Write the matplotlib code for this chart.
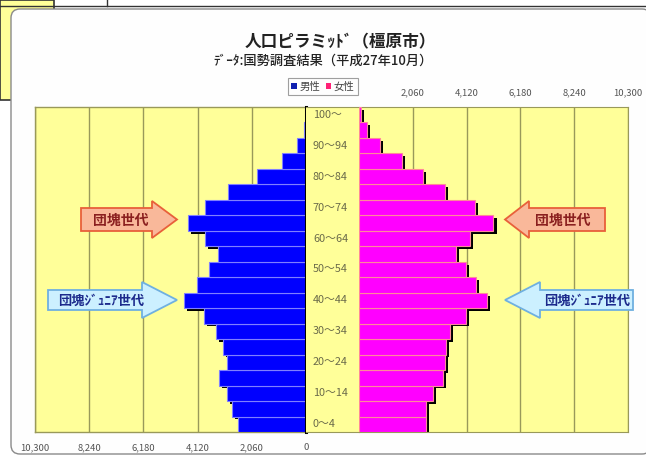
import matplotlib
matplotlib.use("Agg")

import matplotlib.pyplot as plt
import matplotlib.patches as mpatches
import numpy as np

plt.rcParams["font.family"] = ["Noto Sans CJK JP", "DejaVu Sans"]
plt.rcParams["axes.unicode_minus"] = False

# ── data (people, 2015 census, Kashihara city) ──────────────────────
age_groups = ["0～4", "5～9", "10～14", "15～19", "20～24", "25～29", "30～34",
              "35～39", "40～44", "45～49", "50～54", "55～59", "60～64",
              "65～69", "70～74", "75～79", "80～84", "85～89", "90～94",
              "95～99", "100～"]
male = [2580, 2810, 3000, 3320, 3000, 3150, 3420, 3890, 4650, 4150, 3700,
        3340, 3850, 4490, 3850, 2960, 1880, 900, 330, 80, 15]
female = [2560, 2580, 2840, 3220, 3280, 3340, 3470, 4110, 4900, 4490, 4110,
          3700, 4240, 5150, 4430, 3300, 2450, 1630, 800, 290, 60]
axis_max = 10300
tick_values = [0, 2060, 4120, 6180, 8240, 10300]

# ── colours ──────────────────────────────────────────────────────────
YELLOW = "#ffff99"
GRID = "#99995a"
BLUE = "#0000ff"
MAGENTA = "#ff00ff"

W, H = 646, 455
fig = plt.figure(figsize=(W / 100, H / 100), dpi=100)
fig.patch.set_facecolor("white")


def rect(x0, y0, x1, y1):
    """pixel box (top-left origin) -> figure fraction"""
    return [x0 / W, 1 - y1 / H, (x1 - x0) / W, (y1 - y0) / H]


# ── background decoration (screenshot frame) ────────────────────────
bg = fig.add_axes([0, 0, 1, 1])
bg.set_xlim(0, W)
bg.set_ylim(H, 0)
bg.axis("off")
bg.add_patch(mpatches.Rectangle((0, 0), 54, 100, facecolor="#ffff99",
                                edgecolor="#333333", lw=1.2))
bg.plot([0, W], [6, 6], color="#333333", lw=1)
bg.plot([107, 107], [0, 6], color="#333333", lw=1)
bg.add_patch(mpatches.FancyBboxPatch((11, 9), 640, 445,
                                     boxstyle="round,pad=0,rounding_size=9",
                                     facecolor="#fefefe", edgecolor="#8a8a8a", lw=1))

y = np.arange(len(age_groups))
shadow_dy = 0.18
shadow_dx = 115

# ── male side (left, inverted) ──────────────────────────────────────
ax_m = fig.add_axes(rect(35, 107, 306, 432))
ax_m.set_facecolor(YELLOW)
ax_m.barh(y - shadow_dy, male, left=-shadow_dx, height=1.0, color="black", zorder=2)
ax_m.barh(y, male, height=1.0, color=BLUE, edgecolor="#8080ff", lw=0.8, zorder=3)
ax_m.set_xlim(axis_max, 0)
ax_m.set_ylim(-0.5, len(age_groups) - 0.5)
ax_m.set_xticks(tick_values)
ax_m.set_xticklabels([f"{v:,}" for v in tick_values])
ax_m.set_yticks([])
ax_m.xaxis.grid(True, color=GRID, lw=1.0, zorder=1)
ax_m.set_axisbelow(True)
ax_m.tick_params(axis="x", length=0, pad=8, labelsize=6.8, labelcolor="#555555")
for s in ["top", "bottom", "left"]:
    ax_m.spines[s].set_color(GRID)
    ax_m.spines[s].set_linewidth(1.0)
ax_m.spines["right"].set_color("black")
ax_m.spines["right"].set_linewidth(2.2)
ax_m.spines["right"].set_zorder(5)

# ── middle label column ─────────────────────────────────────────────
ax_c = fig.add_axes(rect(306, 107, 359, 432))
ax_c.set_facecolor(YELLOW)
ax_c.set_xlim(0, 1)
ax_c.set_ylim(-0.5, len(age_groups) - 0.5)
ax_c.set_xticks([])
ax_c.set_yticks([])
for i, lab in enumerate(age_groups):
    if i % 2 == 0:
        ax_c.text(0.13, y[i], lab, ha="left", va="center", fontsize=7.8,
                  color="#6a6a4a")
for s in ["left", "right"]:
    ax_c.spines[s].set_visible(False)
for s in ["top", "bottom"]:
    ax_c.spines[s].set_color(GRID)

# ── female side (right) ─────────────────────────────────────────────
ax_f = fig.add_axes(rect(359, 107, 628, 432))
ax_f.set_facecolor(YELLOW)
ax_f.barh(y - shadow_dy, female, left=shadow_dx, height=1.0, color="black", zorder=2)
ax_f.barh(y, female, height=1.0, color=MAGENTA, edgecolor="#ff8899", lw=0.8, zorder=3)
ax_f.set_xlim(0, axis_max)
ax_f.set_ylim(-0.5, len(age_groups) - 0.5)
ax_f.xaxis.tick_top()
ax_f.set_xticks(tick_values[1:])
ax_f.set_xticklabels([f"{v:,}" for v in tick_values[1:]])
ax_f.set_yticks([])
ax_f.xaxis.grid(True, color=GRID, lw=1.0, zorder=1)
ax_f.set_axisbelow(True)
ax_f.tick_params(axis="x", length=0, pad=7, labelsize=6.8, labelcolor="#555555")
ax_f.spines["left"].set_visible(False)
for s in ["top", "bottom", "right"]:
    ax_f.spines[s].set_color(GRID)

# ── titles & legend ─────────────────────────────────────────────────
fig.text(340 / W, 1 - 42 / H, "人口ピラミｯﾄﾞ（橿原市）", ha="center", va="center",
         fontsize=12, fontweight="bold", color="#222222")
fig.text(323 / W, 1 - 61 / H, "ﾃﾞｰﾀ:国勢調査結果（平成27年10月）", ha="center",
         va="center", fontsize=9.5, fontweight="medium", color="#222222")

handles = [mpatches.Patch(facecolor="#1020b0"), mpatches.Patch(facecolor="#ff2277")]
leg = fig.legend(handles, ["男性", "女性"], loc="center",
                 bbox_to_anchor=(323 / W, 1 - 86.5 / H), ncol=2, frameon=True,
                 fontsize=7.5, handlelength=0.5, handleheight=0.5,
                 handletextpad=0.25, columnspacing=0.6, borderpad=0.3,
                 fancybox=False, edgecolor="#888888")
leg.get_frame().set_linewidth(0.8)
for t in leg.get_texts():
    t.set_color("#444444")

# ── generation arrows ───────────────────────────────────────────────
ov = fig.add_axes([0, 0, 1, 1])
ov.set_xlim(0, W)
ov.set_ylim(H, 0)
ov.axis("off")
ov.patch.set_alpha(0)


def arrow(x0, x1, ytop, ybot, head, body_pad, direction, fc, ec):
    """block arrow; direction +1 points right, -1 points left"""
    ym = (ytop + ybot) / 2
    bt, bb = ytop + body_pad, ybot - body_pad
    if direction > 0:
        xs = x1 - head
        pts = [(x0, bt), (xs, bt), (xs, ytop), (x1, ym), (xs, ybot), (xs, bb), (x0, bb)]
    else:
        xs = x0 + head
        pts = [(x1, bt), (xs, bt), (xs, ytop), (x0, ym), (xs, ybot), (xs, bb), (x1, bb)]
    ov.add_patch(mpatches.Polygon(pts, closed=True, facecolor=fc, edgecolor=ec, lw=1.3))


ORANGE_FC, ORANGE_EC, ORANGE_TX = "#f9b89a", "#e8603a", "#8a1f1f"
BLUE_FC, BLUE_EC, BLUE_TX = "#ccf0ff", "#6fb0e0", "#1c2a8c"

arrow(81, 177, 201, 238, 25, 7, 1, ORANGE_FC, ORANGE_EC)
arrow(505, 605, 201, 238, 24, 7, -1, ORANGE_FC, ORANGE_EC)
arrow(48, 177, 282, 318, 35, 8, 1, BLUE_FC, BLUE_EC)
arrow(505, 633, 282, 318, 35, 8, -1, BLUE_FC, BLUE_EC)

ov.text(121, 221, "団塊世代", ha="center", va="center", fontsize=10,
        fontweight="bold", color=ORANGE_TX)
ov.text(563, 221, "団塊世代", ha="center", va="center", fontsize=10,
        fontweight="bold", color=ORANGE_TX)
ov.text(101, 301, "団塊ｼﾞｭﾆｱ世代", ha="center", va="center", fontsize=9.5,
        fontweight="bold", color=BLUE_TX)
ov.text(587, 301, "団塊ｼﾞｭﾆｱ世代", ha="center", va="center", fontsize=9.5,
        fontweight="bold", color=BLUE_TX)

fig.savefig("out.png", dpi=100, facecolor="white")
